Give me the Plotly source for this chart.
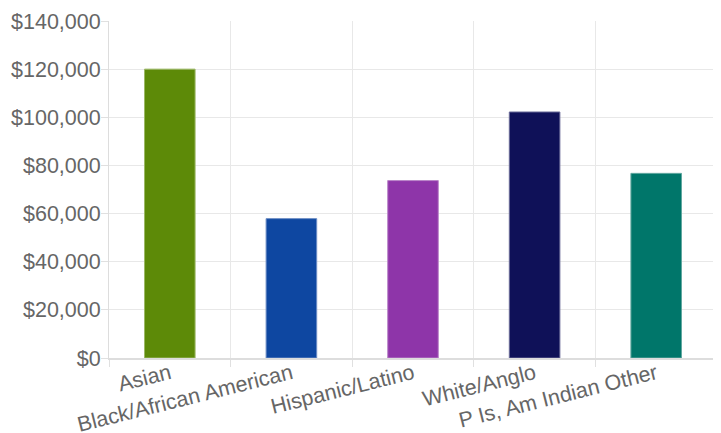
import plotly.graph_objects as go

categories = ["Asian", "Black/African American", "Hispanic/Latino", "White/Anglo", "P Is, Am Indian Other"]
values = [120000, 57900, 73700, 102200, 76700]
colors = ["#5d8a08", "#0e47a1", "#8e35a9", "#0f1158", "#00766a"]
border_colors = ["#9cb866", "#6a8cc4", "#b985c8", "#6a6b98", "#62a8a0"]
y_ticks = [0, 20000, 40000, 60000, 80000, 100000, 120000, 140000]
y_tick_labels = ["$0", "$20,000", "$40,000", "$60,000", "$80,000", "$100,000", "$120,000", "$140,000"]

fig = go.Figure(
    go.Bar(
        x=categories,
        y=values,
        marker=dict(color=colors, line=dict(color=border_colors, width=1)),
        hoverinfo="skip",
    )
)

font = dict(family="Liberation Sans, Arial, sans-serif", size=21.5, color="#666666")

# the page body has an 8px default margin, so the figure is 8px smaller each way
fig.update_layout(
    width=713,
    height=425,
    margin=dict(l=101, r=4, t=13, b=75, autoexpand=False),
    plot_bgcolor="white",
    paper_bgcolor="white",
    showlegend=False,
    bargap=0.584,
    font=font,
)
fig.update_xaxes(
    type="category",
    tickson="boundaries",
    showgrid=True,
    gridcolor="#e8e8e8",
    gridwidth=1,
    ticks="outside",
    ticklen=7,
    tickcolor="#e0e0e0",
    tickangle=-14,
    tickfont=font,
    ticklabelstandoff=-7,
    showline=True,
    linecolor="#dddddd",
    linewidth=2,
    zeroline=False,
    automargin=False,
)
fig.update_yaxes(
    range=[0, 140000],
    tickmode="array",
    tickvals=y_ticks,
    ticktext=y_tick_labels,
    showgrid=True,
    gridcolor="#e8e8e8",
    gridwidth=1,
    ticks="outside",
    ticklen=7,
    tickcolor="#e0e0e0",
    tickfont=font,
    ticklabelstandoff=-4,
    showline=True,
    linecolor="#dddddd",
    linewidth=1,
    zeroline=False,
    automargin=False,
)

fig.write_html("out.html")
